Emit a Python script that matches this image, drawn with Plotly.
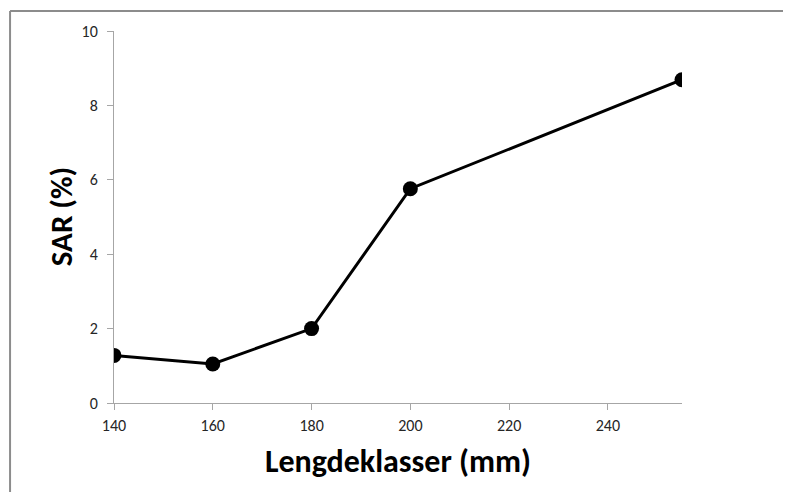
import plotly.graph_objects as go

# Lengdeklasser (mm) og SAR (%)
lengde = [140, 160, 180, 200, 255]
sar = [1.28, 1.05, 2.0, 5.76, 8.69]

x_ticks = [140, 160, 180, 200, 220, 240]
y_ticks = [0, 2, 4, 6, 8, 10]

AXIS_GREY = "#a6a6a6"
FONT = "Carlito, Lato, sans-serif"

fig = go.Figure()
fig.add_trace(go.Scatter(
    x=lengde, y=sar,
    mode="lines+markers",
    line=dict(color="black", width=3),
    marker=dict(size=15, color="black"),
    showlegend=False,
))

# ramme (bare venstre og topp synlig i originalen)
fig.add_shape(type="line", xref="paper", yref="paper",
              x0=-0.183, x1=1.4, y0=1.054, y1=1.054,
              line=dict(color="#8c8c8c", width=2))
fig.add_shape(type="line", xref="paper", yref="paper",
              x0=-0.183, x1=-0.183, y0=-0.4, y1=1.054,
              line=dict(color="#8c8c8c", width=2))

# y-tittel som annotasjon for å få riktig plassering
fig.add_annotation(
    text="<b>SAR (%)</b>", textangle=-90,
    xref="paper", yref="paper", x=-0.093, y=0.5,
    xanchor="center", yanchor="middle", showarrow=False,
    font=dict(size=31, color="black", family=FONT),
)

# siden har 8px kant rundt figuren, så figuren gjøres litt mindre
fig.update_layout(
    width=775, height=484,
    margin=dict(l=106, r=101, t=23, b=89),
    plot_bgcolor="white", paper_bgcolor="white",
    font=dict(family=FONT, color="#262626", size=16),
    xaxis=dict(
        range=[140, 255], tickvals=x_ticks,
        showgrid=False, zeroline=False,
        showline=True, linecolor=AXIS_GREY, linewidth=1,
        ticks="outside", ticklen=6, tickcolor=AXIS_GREY,
        ticklabelstandoff=2,
        title=dict(text="<b>Lengdeklasser (mm)</b>",
                   font=dict(size=32, color="black", family=FONT),
                   standoff=15),
    ),
    yaxis=dict(
        range=[0, 10], tickvals=y_ticks,
        showgrid=False, zeroline=False,
        showline=True, linecolor=AXIS_GREY, linewidth=1,
        ticks="outside", ticklen=6, tickcolor=AXIS_GREY,
        ticklabelstandoff=6,
    ),
)

fig.write_html("out.html")
